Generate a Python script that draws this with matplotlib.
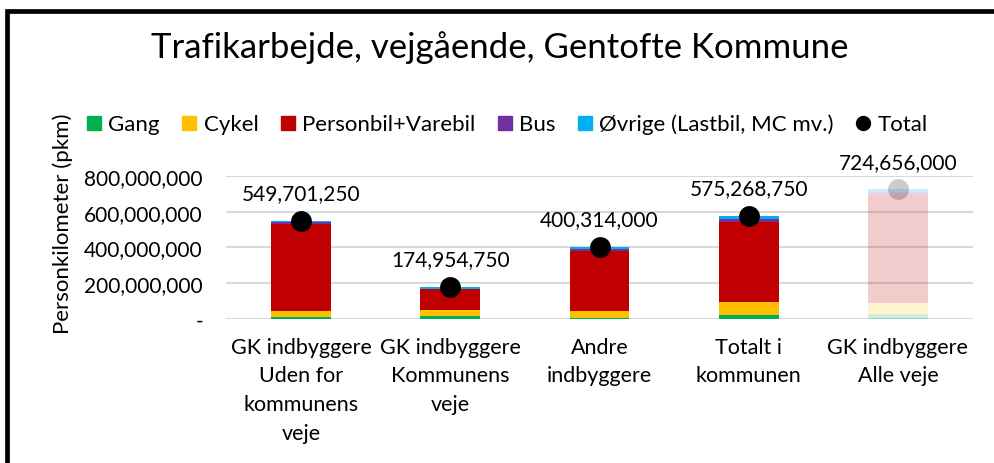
import matplotlib
matplotlib.use("Agg")
import matplotlib.pyplot as plt
from matplotlib.patches import Rectangle
from matplotlib.lines import Line2D
from matplotlib.ticker import FuncFormatter
import numpy as np

plt.rcParams['font.family'] = ['Lato', 'DejaVu Sans']

categories = ["GK indbyggere\nUden for\nkommunens\nveje",
              "GK indbyggere\nKommunens\nveje",
              "Andre\nindbyggere",
              "Totalt i\nkommunen",
              "GK indbyggere\nAlle veje"]
series_names = ["Gang", "Cykel", "Personbil+Varebil", "Bus", "Øvrige (Lastbil, MC mv.)"]
gang     = [10e6, 15e6, 3e6, 18e6, 25e6]
cykel    = [30e6, 33e6, 40e6, 73e6, 63e6]
personbil = [490e6, 117e6, 334e6, 451e6, 607e6]
bus      = [12e6, 3e6, 11e6, 14e6, 15e6]
ovrige   = [7.70125e6, 6.95475e6, 12.314e6, 19.26875e6, 14.656e6]
totals   = [549701250, 174954750, 400314000, 575268750, 724656000]
colors = ["#00B050", "#FFC000", "#C00000", "#7030A0", "#00B0F0"]
alphas = [1, 1, 1, 1, 0.2]

W, H = 995, 464
fig = plt.figure(figsize=(W/100, H/100), dpi=100)
ax = fig.add_axes([226.5/W, 1-319.5/H, (972.5-226.5)/W, (319.5-177)/H])

x = np.arange(len(categories))
data = [gang, cykel, personbil, bus, ovrige]
bottom = np.zeros(len(categories))
for name, vals, c in zip(series_names, data, colors):
    vals = np.array(vals)
    for i in range(len(x)):
        ax.bar(x[i], vals[i], bottom=bottom[i], width=0.40, color=c,
               alpha=alphas[i], zorder=2, linewidth=0)
    bottom += vals

for i in range(len(x)):
    ax.plot(x[i], totals[i], 'o', color='black', markersize=15,
            alpha=alphas[i], zorder=3, markeredgewidth=0)
    ax.annotate(f"{totals[i]:,.0f}", (x[i], totals[i]), xytext=(0, 20),
                textcoords='offset points', ha='center', va='center',
                fontsize=15, color='black', zorder=4)

ax.set_xlim(-0.5, len(x)-0.5)
ax.set_ylim(0, 800e6)
ax.set_yticks([0, 200e6, 400e6, 600e6, 800e6])
ax.yaxis.set_major_formatter(FuncFormatter(lambda v, p: "-" if v == 0 else f"{v:,.0f}"))
ax.set_xticks(x)
ax.set_xticklabels(categories, fontsize=15.5, linespacing=1.55)
ax.tick_params(axis='y', length=0, pad=17, labelsize=15)
ax.tick_params(axis='x', length=0, pad=13)
ax.grid(axis='y', color='#D9D9D9', linewidth=1.5, zorder=0)
ax.set_axisbelow(True)
for s in ax.spines.values():
    s.set_visible(False)

fig.text(63/W, 1-224/H, "Personkilometer (pkm)", rotation=90, ha='center', va='center', fontsize=16)
fig.text(500/W, 1-48/H, "Trafikarbejde, vejgående, Gentofte Kommune", ha='center', va='center', fontsize=25)

handles = [Line2D([], [], marker='s', linestyle='none', color=c, markersize=9.5) for c in colors]
handles.append(Line2D([], [], marker='o', linestyle='none', color='black', markersize=10))
labels = series_names + ["Total"]
fig.legend(handles, labels, loc='center', bbox_to_anchor=(507/W, 1-125/H), ncol=6,
           frameon=False, fontsize=16, handlelength=0.7, handletextpad=0.3,
           columnspacing=0.97)

fig.add_artist(Rectangle((7.5/W, -0.1), 1.2, 1.1 - 12/H, transform=fig.transFigure,
                         fill=False, edgecolor='black', linewidth=3.4))

fig.savefig("out.png", dpi=100)
